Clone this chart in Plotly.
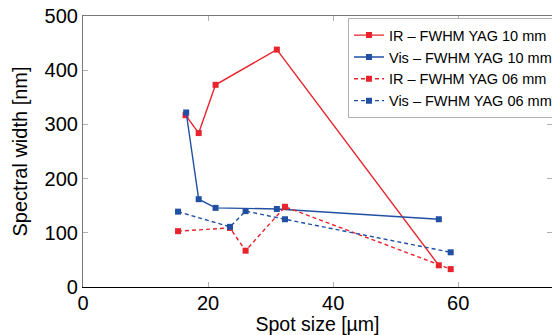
import plotly.graph_objects as go

# Spot size [µm] and spectral width [nm] per measurement series
ir10_x = [16.4, 18.5, 21.2, 31.0, 56.9]
ir10_y = [317, 284, 373, 438, 40]

vis10_x = [16.5, 18.5, 21.2, 31.0, 56.9]
vis10_y = [322, 162, 146, 144, 125]

ir06_x = [15.2, 23.5, 26.0, 32.3, 58.8]
ir06_y = [103, 109, 67, 148, 33]

vis06_x = [15.2, 23.5, 26.0, 32.3, 58.8]
vis06_y = [139, 111, 140, 125, 64]

x_ticks = [0, 20, 40, 60]
y_ticks = [0, 100, 200, 300, 400, 500]

RED = "#e8232b"
BLUE = "#2150a3"
FONT = "Liberation Sans, Arial, Helvetica, sans-serif"

series = [
    ("IR – FWHM YAG 10 mm", ir10_x, ir10_y, RED, "solid"),
    ("Vis – FWHM YAG 10 mm", vis10_x, vis10_y, BLUE, "solid"),
    ("IR – FWHM YAG 06 mm", ir06_x, ir06_y, RED, "4px,3px"),
    ("Vis – FWHM YAG 06 mm", vis06_x, vis06_y, BLUE, "4px,3px"),
]

fig = go.Figure()
for name, xs, ys, color, dash in series:
    fig.add_trace(go.Scatter(
        x=xs, y=ys, name=name, mode="lines+markers",
        line=dict(color=color, width=1.4, dash=dash),
        marker=dict(symbol="square", size=6, color=color),
    ))

# Invisible helper trace drives the top and right frame axes
fig.add_trace(go.Scatter(x=[None], y=[None], xaxis="x2", yaxis="y2",
                         showlegend=False, hoverinfo="skip"))

fig.update_layout(
    width=552, height=335,
    margin=dict(l=83, r=0, t=16, b=48, autoexpand=False),
    paper_bgcolor="white", plot_bgcolor="white",
    font=dict(family=FONT, size=20, color="black"),
    showlegend=True,
    legend=dict(
        x=0.565, y=0.992, xanchor="left", yanchor="top",
        bgcolor="white", bordercolor="#b0b0b0", borderwidth=1,
        font=dict(family=FONT, size=14.5, color="black"),
        itemwidth=30, tracegroupgap=0,
    ),
    xaxis=dict(
        range=[0, 75], tickvals=x_ticks, ticks="inside", ticklen=5,
        tickcolor="#b0b0b0", showgrid=False, zeroline=False,
        showline=True, linecolor="black", linewidth=1.2,
        automargin=False, ticklabelstandoff=-2,
        title=dict(text="Spot size [µm]", standoff=0,
                   font=dict(family=FONT, size=19.5)),
        tickfont=dict(family=FONT, size=20),
    ),
    yaxis=dict(
        range=[0, 500], tickvals=y_ticks, ticks="inside", ticklen=5,
        tickcolor="#b0b0b0", showgrid=False, zeroline=False,
        showline=True, linecolor="#777777", linewidth=1.2,
        automargin=False,
        title=dict(text="Spectral width [nm]", standoff=11,
                   font=dict(family=FONT, size=20)),
        tickfont=dict(family=FONT, size=20),
    ),
    xaxis2=dict(
        overlaying="x", side="top", matches="x", range=[0, 75],
        tickvals=x_ticks, showticklabels=False, ticks="inside", ticklen=5,
        tickcolor="#b0b0b0", showgrid=False, zeroline=False,
        showline=True, linecolor="#777777", linewidth=1.2,
        automargin=False,
    ),
    yaxis2=dict(
        overlaying="y", side="right", matches="y", range=[0, 500],
        tickvals=y_ticks, showticklabels=False, ticks="inside", ticklen=5,
        tickcolor="#b0b0b0", showgrid=False, zeroline=False, showline=False,
        automargin=False,
    ),
)

fig.write_html("out.html")
